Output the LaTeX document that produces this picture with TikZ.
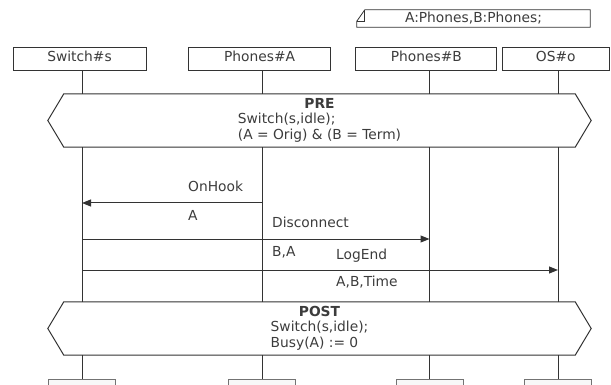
\documentclass[tikz,border=0pt]{standalone}
\usepackage{fontspec}
\setmainfont{DejaVu Sans}
\usepackage{xcolor}
\usetikzlibrary{arrows.meta,positioning}
\definecolor{mscline}{RGB}{51,51,51}
\definecolor{msctext}{RGB}{60,60,60}
\definecolor{mscfill}{RGB}{248,248,248}

\begin{document}
\begin{tikzpicture}[x=1pt,y=-1pt,
  font=\fontsize{13.8}{15.5}\selectfont,text=msctext,
  hdr/.style={rectangle,draw=mscline,line width=1pt,fill=white,minimum height=23pt,
              inner sep=0pt,text height=10pt,text depth=5.6pt},
  ftr/.style={rectangle,draw=black!55,line width=1pt,fill=mscfill,minimum width=67pt,
              minimum height=23pt,inner sep=0pt,anchor=north},
  cond/.style={rectangle,minimum width=511pt,minimum height=53pt,inner sep=0pt},
  life/.style={draw=mscline,line width=1pt},
  msg/.style={-{Triangle[length=9pt,width=7pt]},draw=mscline,line width=1pt},
  lbl/.style={anchor=base west,inner sep=0pt}]
  \useasboundingbox (0,0) rectangle (611,385);
  \node[minimum width=233pt,minimum height=17pt,inner sep=0pt](decl) at (473.5,18.5){A:Phones,B:Phones;};
  \draw[life,line width=0.8pt]([xshift=8pt]decl.north west)--(decl.north east)--(decl.south east)
    --(decl.south west)--([yshift=6pt]decl.south west)--cycle;
  \draw[life,line width=0.8pt]([yshift=6pt]decl.south west)--([xshift=8pt,yshift=6pt]decl.south west)
    --([xshift=8pt]decl.north west);
  \node[hdr,minimum width=133pt](sw) at (79.5,59.5){Switch\#s};
  \node[hdr,minimum width=142pt](pa) at (259.6,59.5){Phones\#A};
  \node[hdr,minimum width=141pt](pb) at (426.3,59.5){Phones\#B};
  \node[hdr,minimum width=107pt](os) at (555.8,59.5){OS\#o};
  \coordinate (lsw) at (82,0); \coordinate (lpa) at (262,0);
  \coordinate (lpb) at (429.5,0); \coordinate (los) at (558,0);
  \node[cond](pre) at (319.5,120.5){\begin{tabular}{@{}l@{}}\multicolumn{1}{@{}c@{}}{\textbf{PRE}}\\
    Switch(s,idle);\\(A = Orig) \& (B = Term)\end{tabular}};
  \node[cond](post) at (319.5,328.5){\begin{tabular}{@{}l@{}}\multicolumn{1}{@{}c@{}}{\textbf{POST}}\\
    Switch(s,idle);\\Busy(A) := 0\end{tabular}};
  \foreach \c in {pre,post}
    \draw[life](\c.north west)--(\c.north east)--([xshift=16pt]\c.east)--(\c.south east)
      --(\c.south west)--([xshift=-16pt]\c.west)--cycle;
  \node[ftr](swb) at (lsw |- 0,379){}; \node[ftr](pab) at (lpa |- 0,379){};
  \node[ftr](pbb) at (lpb |- 0,379){}; \node[ftr](osb) at (los |- 0,379){};
  \foreach \h/\l in {sw/lsw,pa/lpa,pb/lpb,os/los}
    \draw[life](\l |- \h.south)--(\l |- pre.north) (\l |- pre.south)--(\l |- post.north)
      (\l |- post.south)--(\l |- \h b.north);
  \draw[msg](lpa |- 0,203)--(lsw |- 0,203);
  \node[lbl](onhook) at (188,192){OnHook};
  \node[lbl](onhookarg) at (188,220.7){A};
  \draw[msg](lsw |- 0,239)--(lpb |- 0,239);
  \node[lbl](disc) at (272,227.7){Disconnect};
  \node[lbl](discarg) at (272,256){B,A};
  \draw[msg](lsw |- 0,270)--(los |- 0,270);
  \node[lbl](logend) at (336,259){LogEnd};
  \node[lbl](logendarg) at (336,286){A,B,Time};
\end{tikzpicture}
\end{document}
